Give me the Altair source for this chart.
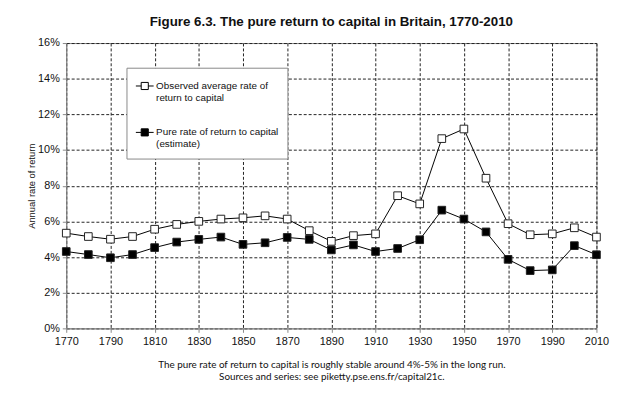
import altair as alt
import pandas as pd

years = [1770, 1780, 1790, 1800, 1810, 1820, 1830, 1840, 1850, 1860, 1870, 1880,
         1890, 1900, 1910, 1920, 1930, 1940, 1950, 1960, 1970, 1980, 1990, 2000, 2010]
observed = [5.34, 5.15, 5.00, 5.15, 5.56, 5.83, 6.00, 6.13, 6.20, 6.31, 6.13, 5.48,
            4.88, 5.20, 5.30, 7.44, 6.98, 10.64, 11.18, 8.42, 5.87, 5.25, 5.30, 5.64, 5.12]
pure = [4.31, 4.14, 3.96, 4.14, 4.53, 4.84, 4.99, 5.12, 4.71, 4.80, 5.10, 4.99,
        4.40, 4.68, 4.31, 4.48, 4.97, 6.63, 6.13, 5.41, 3.87, 3.24, 3.28, 4.64, 4.13]

series_names = ["Observed average rate of|return to capital",
                "Pure rate of return to capital|(estimate)"]
x_ticks = [1770, 1790, 1810, 1830, 1850, 1870, 1890, 1910, 1930, 1950, 1970, 1990, 2010]
y_ticks = [0, 2, 4, 6, 8, 10, 12, 14, 16]

title_text = "Figure 6.3. The pure return to capital in Britain, 1770-2010"
footnote = ["The pure rate of return to capital is roughly stable around 4%-5% in the long run.",
            "Sources and series: see piketty.pse.ens.fr/capital21c."]
y_title = "Annual rate of return"

rows = []
for y, o, p in zip(years, observed, pure):
    rows.append({"year": y, "value": o, "series": series_names[0]})
    rows.append({"year": y, "value": p, "series": series_names[1]})
df = pd.DataFrame(rows)

x_enc = alt.X("year:Q",
              scale=alt.Scale(domain=[1770, 2010], nice=False, zero=False),
              axis=alt.Axis(values=x_ticks, format="d", title=footnote,
                            titleFont="Lato", titleFontSize=10, titleFontWeight="normal",
                            titleColor="#111", titlePadding=14,
                            labelFont="Liberation Sans", labelFontSize=11, labelColor="#111",
                            labelPadding=3, tickSize=4, tickColor="#888",
                            labelFlush=False, labelOverlap=False,
                            domainColor="#888",
                            grid=True, gridDash=[3, 2], gridColor="#222", gridWidth=1))
y_enc = alt.Y("value:Q",
              scale=alt.Scale(domain=[0, 16], nice=False),
              axis=alt.Axis(values=y_ticks, labelExpr="datum.value + '%'", title=y_title,
                            titleFont="Liberation Sans", titleFontSize=9.5,
                            titleFontWeight="normal", titleColor="#111", titlePadding=1,
                            labelFont="Liberation Sans", labelFontSize=11, labelColor="#111",
                            labelPadding=3, tickSize=4, tickColor="#888",
                            labelFlush=False, labelOverlap=False, labelBound=False,
                            domainColor="#888",
                            grid=True, gridDash=[3, 2], gridColor="#222", gridWidth=1))

base = alt.Chart(df).encode(x=x_enc, y=y_enc)

lines = base.mark_line(color="black", strokeWidth=1).encode(detail="series:N")

sym_path = "M-1,0H-0.4M0.4,0H1M-0.4,-0.4H0.4V0.4H-0.4Z"

points = base.mark_point(shape="square", filled=False, size=60,
                         stroke="#222", strokeWidth=1, opacity=1).encode(
    fill=alt.Fill("series:N",
                  scale=alt.Scale(domain=series_names, range=["white", "black"]),
                  legend=alt.Legend(title=None, orient="none", legendX=61, legendY=25,
                                    labelExpr="split(datum.label, '|')",
                                    symbolType=sym_path, symbolSize=324,
                                    symbolStrokeColor="black", symbolStrokeWidth=1,
                                    labelFont="Liberation Sans", labelFontSize=10,
                                    labelColor="#111", labelOffset=2,
                                    labelLimit=300,
                                    rowPadding=20, padding=9,
                                    strokeColor="#888", fillColor="white")))

chart = alt.layer(lines, points).properties(
    width=537, height=289,
    title=alt.TitleParams(title_text, font="Liberation Sans", fontSize=13.5,
                          fontWeight="bold", color="#111", anchor="middle", offset=9),
    autosize=alt.AutoSizeParams(type="none"),
    padding={"left": 59, "top": 33, "right": 36, "bottom": 66},
).configure_view(stroke="#888", strokeWidth=1)

chart.save("out.html", embed_options={"renderer": "svg", "actions": False})
